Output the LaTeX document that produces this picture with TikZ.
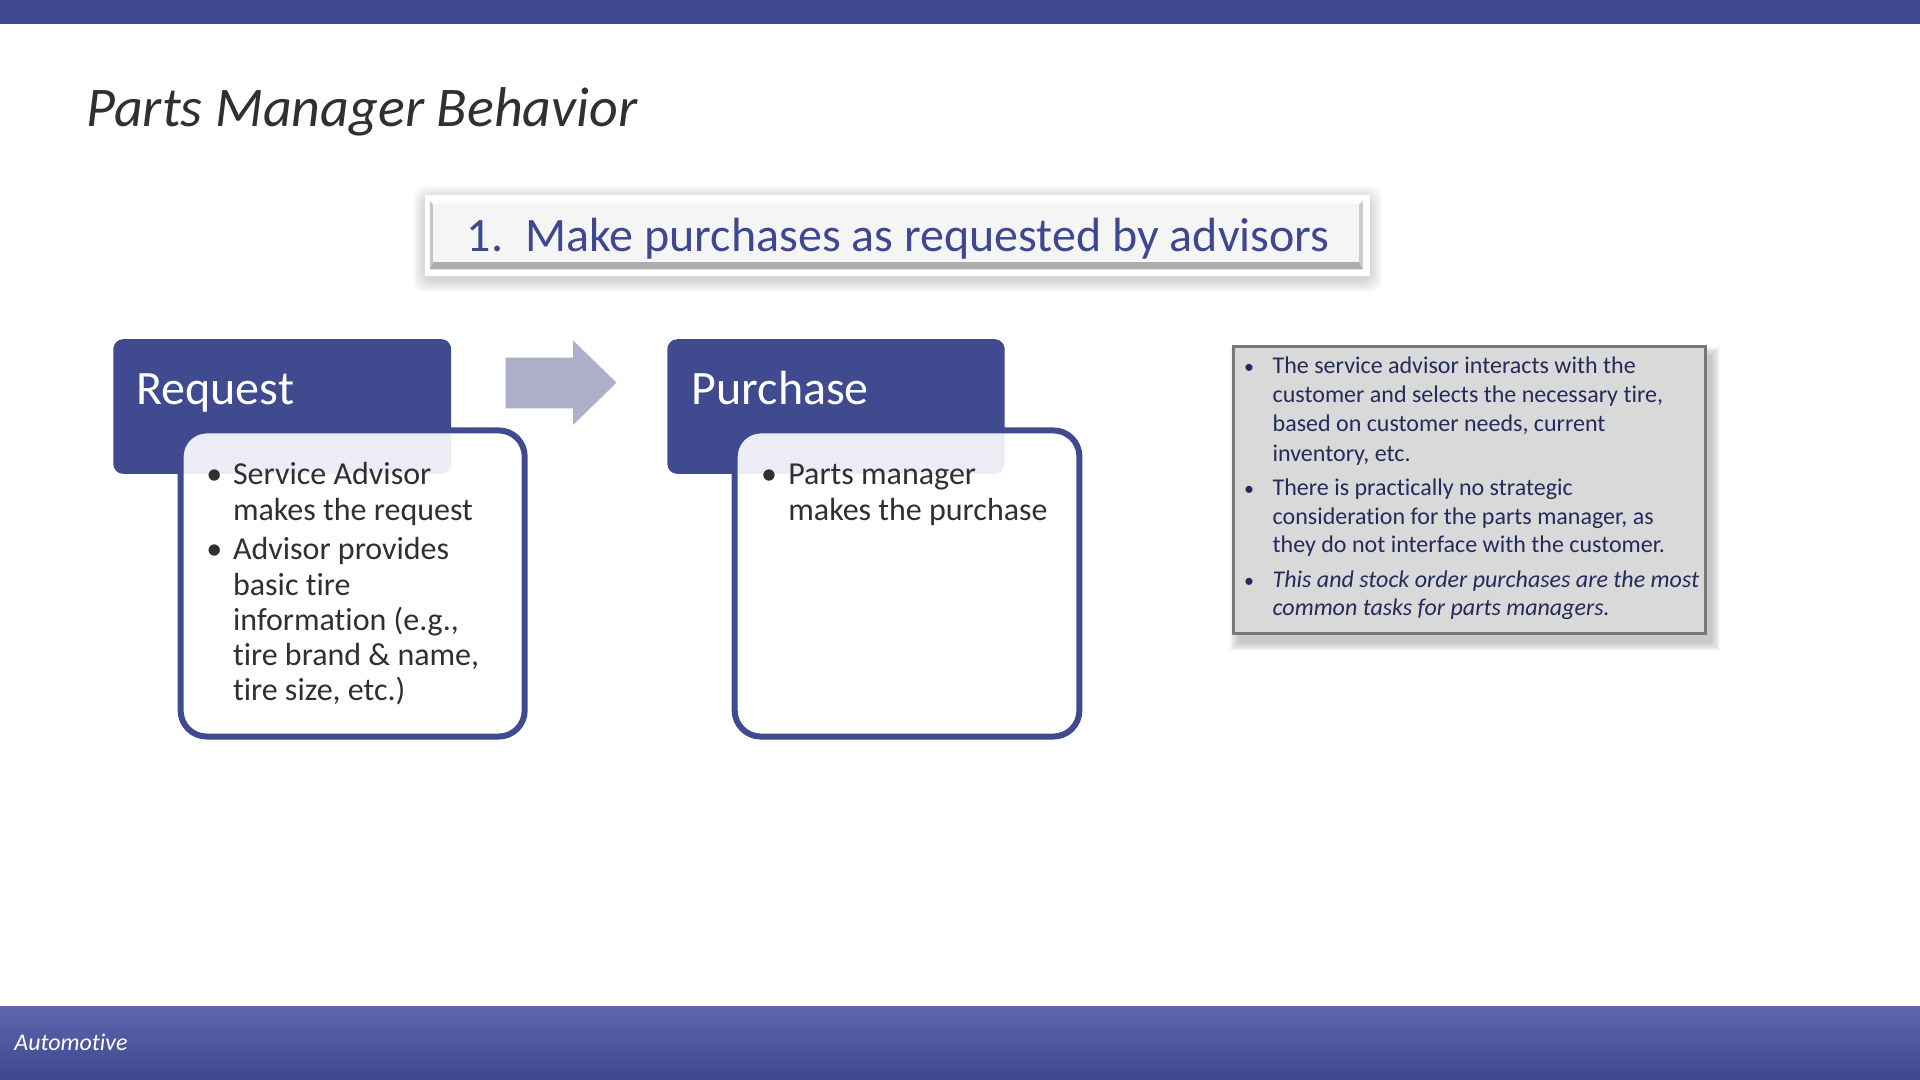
\documentclass[tikz,border=0pt]{standalone}
\usepackage{fontspec}
\setmainfont{Carlito}[Ligatures=NoCommon]
\definecolor{barblue}{RGB}{62,72,143}
\definecolor{foottop}{RGB}{91,102,172}
\definecolor{footbot}{RGB}{62,72,144}
\definecolor{blockblue}{RGB}{64,74,143}
\definecolor{headblue}{RGB}{62,72,145}
\definecolor{titlegray}{RGB}{48,48,48}
\definecolor{txtgray}{RGB}{48,48,48}
\definecolor{arrowgray}{RGB}{173,176,200}
\definecolor{notefill}{RGB}{217,217,217}
\definecolor{noteedge}{RGB}{120,120,120}
\definecolor{notetext}{RGB}{35,43,92}
\begin{document}
\begin{tikzpicture}[x=0.61224pt,y=-0.61224pt,
  bodytxt/.style={anchor=base west, inner sep=0pt, font=\fontsize{16}{18}\selectfont, text=txtgray},
  bodybul/.style={anchor=base, inner sep=0pt, font=\fontsize{16}{18}\selectfont, text=txtgray},
  notetxt/.style={anchor=base west, inner sep=0pt, font=\fontsize{12}{14}\selectfont, text=notetext},
  notebul/.style={anchor=base, inner sep=0pt, font=\fontsize{10}{12}\selectfont, text=notetext},
  blocktitle/.style={anchor=base west, inner sep=0pt, font=\fontsize{24}{28}\selectfont, text=white},
  blockbox/.style={fill=blockblue, rounded corners=5pt},
  contentbox/.style={draw=blockblue, line width=3pt, fill=white, fill opacity=0.9, rounded corners=13pt}]
\useasboundingbox (0,0) rectangle (1568,882);
\fill[white] (0,0) rectangle (1568,882);
% top and bottom bars
\fill[barblue] (0,0) rectangle (1568,19.6);
\shade[top color=foottop, bottom color=footbot] (0,822) rectangle (1568,882);
\node[anchor=base west, inner sep=0pt, font=\fontsize{12}{14}\selectfont\itshape, text=white] (foot) at (11.4,858.3) {Automotive};
% title
\node[anchor=base west, inner sep=0pt, font=\fontsize{28}{34}\selectfont\itshape, text=titlegray] (title) at (70,103.5) {Parts Manager Behavior};
% header box with soft shadow
\foreach \s in {1,...,10} {
  \fill[black, opacity=0.014, rounded corners=6pt] (347-\s,159-\s+3) rectangle (1119+\s,225+\s+4);
}
\fill[white] (347,159) rectangle (1119,225);
\fill[white!99!black] (351,164) -- (1113,164) -- (1110,167) -- (354,167) -- cycle;
\fill[black!22] (351,164) -- (354,167) -- (354,214) -- (351,220) -- cycle;
\fill[black!32] (351,220) -- (354,214) -- (1110,214) -- (1113,220) -- cycle;
\fill[black!20] (1113,164) -- (1113,220) -- (1110,214) -- (1110,167) -- cycle;
\fill[black!4] (354,167) rectangle (1110,214);
\node[anchor=base west, inner sep=0pt, font=\fontsize{24}{28}\selectfont, text=headblue] (head) at (381,205) {1.\hspace{11pt}Make purchases as requested by advisors};
% arrow
\fill[arrowgray] (413,292) -- (468,292) -- (468,278) -- (503.5,312.5) -- (468,347) -- (468,333.5) -- (413,333.5) -- cycle;
% Request
\fill[blockbox] (92.5,277) rectangle (368.5,387);
\node[blocktitle] (req) at (111,330) {Request};
\path[contentbox] (147.5,351.5) rectangle (428.5,601.5);
\node[bodybul] (rb1) at (175,396) {•};
\node[bodytxt] (r1) at (190,396) {Service Advisor};
\node[bodytxt] (r2) at (190,424.7) {makes the request};
\node[bodybul] (rb2) at (175,457) {•};
\node[bodytxt] (r3) at (190,457) {Advisor provides};
\node[bodytxt] (r4) at (190,486.7) {basic tire};
\node[bodytxt] (r5) at (190,515) {information (e.g.,};
\node[bodytxt] (r6) at (190,543.6) {tire brand \& name,};
\node[bodytxt] (r7) at (190,571.7) {tire size, etc.)};
% Purchase
\fill[blockbox] (545,277) rectangle (820.5,387);
\node[blocktitle] (pur) at (564.5,330) {Purchase};
\path[contentbox] (600,351.5) rectangle (881.5,601.5);
\node[bodybul] (pb1) at (628,396) {•};
\node[bodytxt] (p1) at (643.5,396) {Parts manager};
\node[bodytxt] (p2) at (643.5,424.7) {makes the purchase};
% note box with shadow
\foreach \s in {1,...,8} {
  \fill[black, opacity=0.028] (1007-\s+5,283-\s+8) rectangle (1393+\s+4,517+\s+7);
}
\draw[noteedge, line width=1.5pt, fill=notefill] (1007,283) rectangle (1393,517);
\node[notebul] (nb1) at (1020,304.9) {•};
\node[notetxt] (n1) at (1039,304.9) {The service advisor interacts with the};
\node[notetxt] (n2) at (1039,328.8) {customer and selects the necessary tire,};
\node[notetxt] (n3) at (1039,352.5) {based on customer needs, current};
\node[notetxt] (n4) at (1039,376.5) {inventory, etc.};
\node[notebul] (nb2) at (1020,404.3) {•};
\node[notetxt] (n5) at (1039,404.3) {There is practically no strategic};
\node[notetxt] (n6) at (1039,428) {consideration for the parts manager, as};
\node[notetxt] (n7) at (1039,451.4) {they do not interface with the customer.};
\node[notebul] (nb3) at (1020,480) {•};
\node[notetxt, font=\fontsize{12}{14}\selectfont\itshape] (n8) at (1039,480) {This and stock order purchases are the most};
\node[notetxt, font=\fontsize{12}{14}\selectfont\itshape] (n9) at (1039,503) {common tasks for parts managers.};
\end{tikzpicture}
\end{document}
